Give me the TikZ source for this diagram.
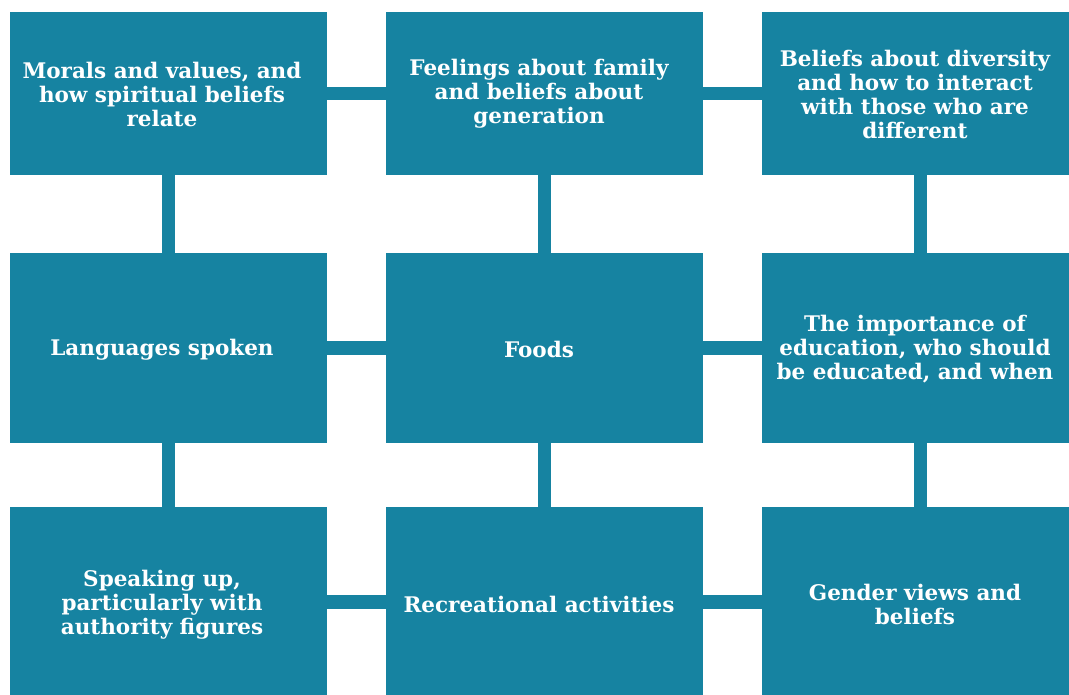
\documentclass[tikz,border=0pt]{standalone}
\usepackage{fontspec}
\setmainfont{DejaVu Serif}
\definecolor{teal1}{RGB}{22,131,161}
\begin{document}
\begin{tikzpicture}[x=1pt,y=-1pt,
  box/.style={fill=teal1,draw=none,inner sep=0pt,anchor=center},
  conn/.style={draw=teal1,line width=13.3pt},
  lbl/.style={text=white,align=center,font=\bfseries\fontsize{21.5}{24}\selectfont,inner sep=0pt}]
\useasboundingbox (0,0) rectangle (1069,694);
\clip (0,0) rectangle (1069,694);
% boxes
\node[box,minimum width=317pt,minimum height=162.7pt] (b1) at (168.5,93.35) {};
\node[box,minimum width=317pt,minimum height=162.7pt] (b2) at (544.5,93.35) {};
\node[box,minimum width=317pt,minimum height=162.7pt] (b3) at (920.5,93.35) {};
\node[box,minimum width=317pt,minimum height=189.7pt] (b4) at (168.5,347.85) {};
\node[box,minimum width=317pt,minimum height=189.7pt] (b5) at (544.5,347.85) {};
\node[box,minimum width=317pt,minimum height=189.7pt] (b6) at (920.5,347.85) {};
\node[box,minimum width=317pt,minimum height=190pt] (b7) at (168.5,602) {};
\node[box,minimum width=317pt,minimum height=190pt] (b8) at (544.5,602) {};
\node[box,minimum width=317pt,minimum height=190pt] (b9) at (920.5,602) {};
% connectors
\draw[conn] (b1) -- (b2);
\draw[conn] (b2) -- (b3);
\draw[conn] (b4) -- (b5);
\draw[conn] (b5) -- (b6);
\draw[conn] (b7) -- (b8);
\draw[conn] (b8) -- (b9);
\draw[conn] (b1) -- (b4);
\draw[conn] (b4) -- (b7);
\draw[conn] (b2) -- (b5);
\draw[conn] (b5) -- (b8);
\draw[conn] (b3) -- (b6);
\draw[conn] (b6) -- (b9);
% labels
\node[lbl] (t1) at (162,94) {Morals and values, and\\how spiritual beliefs\\relate};
\node[lbl] (t2) at (539,94) {Feelings about family\\and beliefs about\\generation};
\node[lbl] (t3) at (915,94) {Beliefs about diversity\\and how to interact\\with those who are\\different};
\node[lbl] (t4) at (162,349.5) {Languages spoken};
\node[lbl] (t5) at (539,349.5) {Foods};
\node[lbl] (t6) at (915,349.5) {The importance of\\education, who should\\be educated, and when};
\node[lbl] (t7) at (162,604.5) {Speaking up,\\particularly with\\authority figures};
\node[lbl] (t8) at (539,604.5) {Recreational activities};
\node[lbl] (t9) at (915,604.5) {Gender views and\\beliefs};
\end{tikzpicture}
\end{document}
